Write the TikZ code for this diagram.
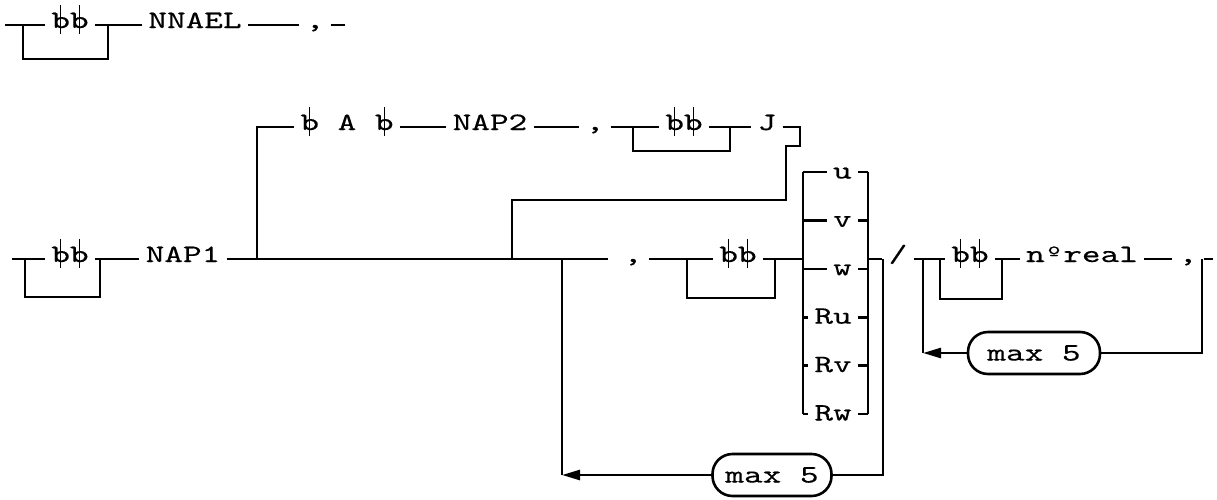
\documentclass[tikz,border=0pt]{standalone}
\usepackage{fontspec}
\usepackage{tikz}
\usetikzlibrary{arrows.meta}
\newfontfamily\typewf[FakeStretch=1.42, FakeBold=0.25]{lmmono10-regular.otf}
\newcommand{\typew}{\typewf\fontsize{12.5}{14}\selectfont}
\newcommand{\blk}{\ooalign{b\cr\hidewidth\rule[-3pt]{0.7pt}{14.5pt}\hidewidth\cr}}
\tikzset{
    word/.style={font=\typew, inner xsep=2.5pt, inner ysep=0pt, text height=5pt, text depth=2pt},
    pick/.style={word, text height=6.5pt, text depth=0pt, anchor=east},
    pill/.style={font=\typew, draw, rounded corners=10pt, minimum height=21pt, text height=7.5pt, text depth=0pt, inner xsep=0pt},
    back/.style={-{Triangle[length=9pt, width=5pt]}}
}
\begin{document}
\begin{tikzpicture}[x=0.5pt, y=-0.5pt, line width=1.3pt]
    \useasboundingbox (0,0) rectangle (1217,499);
    \coordinate (S1) at (5,25);
    \coordinate (E1) at (345,25);
    \coordinate (P1) at (23,25);
    \coordinate (Q1) at (108,25);
    \coordinate (R1) at (108,59);
    \node[word] (bb1) at (70,25) {\blk\blk};
    \node[word] (nnael) at (195,25) {NNAEL};
    \node[word] (c1) at (315,25) {,};
    \draw (S1) -- (bb1) -- (nnael) -- (c1) -- (E1);
    \draw (P1) |- (R1) -- (Q1);
    \coordinate (S2) at (12,259);
    \coordinate (P2) at (25,259);
    \coordinate (Q2) at (100,259);
    \coordinate (R2) at (100,297);
    \coordinate (M1) at (608,259);
    \coordinate (U1) at (257,259);
    \coordinate (U2) at (257,127);
    \coordinate (J1) at (512,259);
    \coordinate (D1) at (562,259);
    \coordinate (D2) at (562,475);
    \node[word] (bb2) at (70,259) {\blk\blk};
    \node[word] (nap1) at (183,259) {NAP1};
    \node[word] (c2) at (633,259) {,};
    \node[word] (bb3) at (738,259) {\blk\blk};
    \coordinate (P3) at (687,259);
    \coordinate (Q3) at (775,259);
    \coordinate (R3) at (775,298);
    \coordinate (L1) at (803,259);
    \draw (S2) -- (bb2) -- (nap1) -- (M1);
    \draw (P2) |- (R2) -- (Q2);
    \draw (c2) -- (bb3) -- (L1);
    \draw (P3) |- (R3) -- (Q3);
    \node[word] (ab) at (347,127) {\blk{} A \blk};
    \node[word] (nap2) at (490,127) {NAP2};
    \node[word] (c3) at (595,127) {,};
    \node[word] (bb4) at (684,127) {\blk\blk};
    \node[word] (jj) at (767,127) {J};
    \coordinate (P4) at (633,127);
    \coordinate (Q4) at (730,127);
    \coordinate (R4) at (730,151);
    \coordinate (T1) at (800,127);
    \coordinate (T2) at (786,146);
    \coordinate (T3) at (512,200);
    \draw (U1) -- (U2) -- (ab) -- (nap2) -- (c3) -- (bb4) -- (jj) -- (T1) |- (T2) |- (T3) -- (J1);
    \draw (P4) |- (R4) -- (Q4);
    \coordinate (L0) at (803,172);
    \coordinate (L6) at (803,414);
    \coordinate (R0) at (868,172);
    \coordinate (R6) at (868,414);
    \draw (L0) -- (L6);
    \draw (R0) -- (R6);
    \foreach \t/\y in {u/172, v/220.4, w/268.8, Ru/317.2, Rv/365.6, Rw/414}{
        \node[pick] (o\t) at (858,\y) {\t};
        \draw (L0 |- o\t) -- (o\t) -- (R0 |- o\t);
    }
    \coordinate (X1) at (868,259);
    \node[word] (sl) at (898,259) {/};
    \draw (X1) -- (sl);
    \coordinate (K1) at (883,259);
    \node[pill, minimum width=59.5pt] (mx1) at (772,475) {max 5};
    \draw (K1) |- (mx1);
    \draw[back] (mx1) -- (D2);
    \draw (D2) -- (D1);
    \coordinate (K2) at (923,259);
    \coordinate (K3) at (923,353);
    \coordinate (K4) at (1202,259);
    \coordinate (W1) at (940,259);
    \coordinate (W2) at (1002,299);
    \coordinate (W3) at (1002,259);
    \coordinate (E2) at (1213,259);
    \node[word] (bb5) at (970,259) {\blk\blk};
    \node[word] (nreal) at (1082,259) {nºreal};
    \node[word] (c4) at (1188,259) {,};
    \node[pill, minimum width=66pt] (mx2) at (1034,353) {max 5};
    \draw (sl) -- (bb5) -- (nreal) -- (c4) -- (E2);
    \draw (W1) |- (W2) -- (W3);
    \draw (K4) |- (mx2);
    \draw[back] (mx2) -- (K3);
    \draw (K3) -- (K2);
\end{tikzpicture}
\end{document}
